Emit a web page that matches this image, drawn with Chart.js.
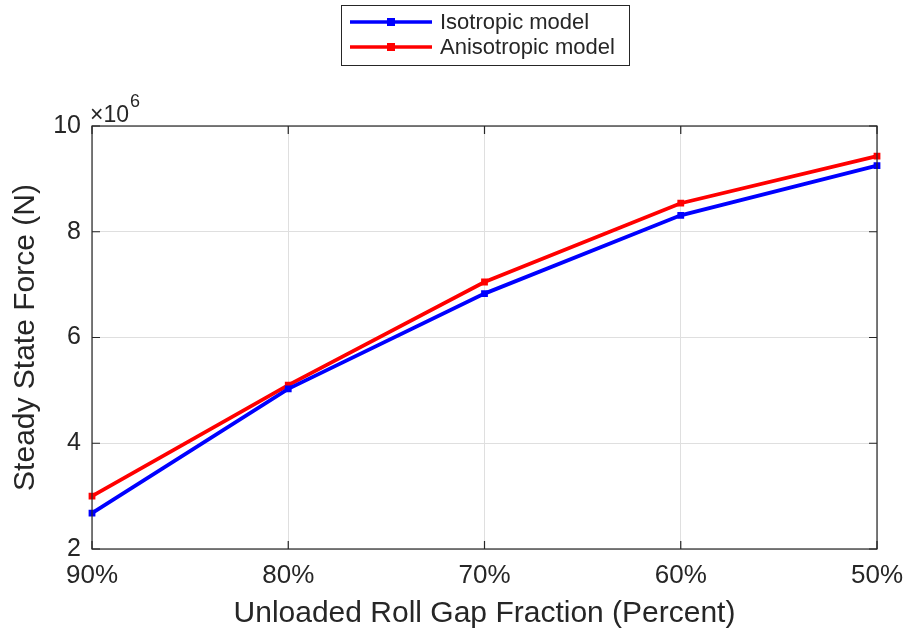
<!DOCTYPE html>
<html>
<head>
<meta charset="utf-8">
<script src="https://cdn.jsdelivr.net/npm/chart.js@4.4.1/dist/chart.umd.min.js"></script>
<style>
  html, body { margin: 0; padding: 0; background: #fff; }
  #wrap { width: 908px; height: 633px; }
</style>
</head>
<body>
<div id="wrap"><canvas id="chart-force"></canvas></div>
<script>
// Roll gap fractions on the x axis
const gapLabels = ['90%', '80%', '70%', '60%', '50%'];

// Steady state force (N) for each model
const isotropicForce = [2.68e6, 5.03e6, 6.83e6, 8.31e6, 9.25e6];
const anisotropicForce = [3.00e6, 5.10e6, 7.05e6, 8.54e6, 9.43e6];

const yTicks = [2e6, 4e6, 6e6, 8e6, 10e6];
const yScaleExp = 6;

const FONT = 'Helvetica, Arial, "Liberation Sans", sans-serif';
const AXIS_COLOR = '#262626';

// Plot box position inside the canvas
const box = { left: 92, right: 877, top: 126, bottom: 549 };

// Tick marks inside the box, x10^6 exponent label and the boxed legend
const matlabDecor = {
    id: 'matlabDecor',
    afterDraw(chart) {
        const ctx = chart.ctx;
        const a = chart.chartArea;
        const xs = chart.scales.x, ys = chart.scales.y;
        ctx.save();

        // box outline
        ctx.strokeStyle = AXIS_COLOR;
        ctx.lineWidth = 1.2;
        ctx.strokeRect(a.left, a.top, a.right - a.left, a.bottom - a.top);

        // inward ticks
        const tl = 8;
        ctx.beginPath();
        gapLabels.forEach((_, i) => {
            const x = xs.getPixelForValue(i);
            ctx.moveTo(x, a.bottom); ctx.lineTo(x, a.bottom - tl);
            ctx.moveTo(x, a.top); ctx.lineTo(x, a.top + tl);
        });
        yTicks.forEach(v => {
            const y = ys.getPixelForValue(v);
            ctx.moveTo(a.left, y); ctx.lineTo(a.left + tl, y);
            ctx.moveTo(a.right, y); ctx.lineTo(a.right - tl, y);
        });
        ctx.stroke();

        // exponent label
        ctx.fillStyle = AXIS_COLOR;
        ctx.textBaseline = 'alphabetic';
        ctx.textAlign = 'left';
        ctx.font = '23px ' + FONT;
        const ex = a.left - 2, ey = a.top - 4;
        ctx.fillText('\u00d710', ex, ey);
        const w = ctx.measureText('\u00d710').width;
        ctx.font = '18px ' + FONT;
        ctx.fillText(String(yScaleExp), ex + w + 1, ey - 15);

        // legend
        const lg = { left: 341, top: 5, width: 288, height: 60 };
        ctx.fillStyle = '#fff';
        ctx.fillRect(lg.left, lg.top, lg.width, lg.height);
        ctx.strokeStyle = AXIS_COLOR;
        ctx.lineWidth = 1;
        ctx.strokeRect(lg.left + 0.5, lg.top + 0.5, lg.width, lg.height);
        chart.data.datasets.forEach((ds, i) => {
            const y = lg.top + 17 + i * 25;
            ctx.strokeStyle = ds.borderColor;
            ctx.lineWidth = 3.5;
            ctx.beginPath();
            ctx.moveTo(350, y); ctx.lineTo(432, y);
            ctx.stroke();
            ctx.fillStyle = ds.borderColor;
            ctx.fillRect(391 - 4, y - 4, 8, 8);
            ctx.fillStyle = AXIS_COLOR;
            ctx.font = '22px ' + FONT;
            ctx.textBaseline = 'middle';
            ctx.fillText(ds.label, 440, y + 1);
        });
        ctx.restore();
    }
};

const ctxForce = document.getElementById('chart-force');
new Chart(ctxForce, {
    type: 'line',
    data: {
        labels: gapLabels,
        datasets: [{
            label: 'Isotropic model',
            data: isotropicForce,
            borderColor: '#0000ff',
            backgroundColor: '#0000ff',
            borderWidth: 3.8,
            pointStyle: 'rect',
            pointRadius: 4.8,
            pointBorderWidth: 0,
            tension: 0
        }, {
            label: 'Anisotropic model',
            data: anisotropicForce,
            borderColor: '#ff0000',
            backgroundColor: '#ff0000',
            borderWidth: 3.8,
            pointStyle: 'rect',
            pointRadius: 4.8,
            pointBorderWidth: 0,
            tension: 0
        }]
    },
    options: {
        responsive: true,
        maintainAspectRatio: false,
        animation: false,
        layout: { padding: { top: box.top, right: 908 - box.right, left: 0, bottom: 0 } },
        plugins: {
            legend: { display: false },
            tooltip: { enabled: false }
        },
        scales: {
            x: {
                type: 'category',
                offset: false,
                grid: { color: '#dfdfdf', lineWidth: 1, drawTicks: false },
                border: { display: false },
                ticks: { color: AXIS_COLOR, font: { family: FONT, size: 26 }, padding: 11, maxRotation: 0 },
                title: {
                    display: true,
                    text: 'Unloaded Roll Gap Fraction (Percent)',
                    color: AXIS_COLOR,
                    font: { family: FONT, size: 30 },
                    padding: { top: 0, bottom: 1 }
                },
                afterFit(scale) {
                    scale.height = 633 - box.bottom;
                    scale.paddingLeft = 0;
                    scale.paddingRight = 0;
                }
            },
            y: {
                min: 2e6,
                max: 10e6,
                afterBuildTicks(scale) { scale.ticks = yTicks.map(v => ({ value: v })); },
                grid: { color: '#dfdfdf', lineWidth: 1, drawTicks: false },
                border: { display: false },
                ticks: {
                    color: AXIS_COLOR,
                    font: { family: FONT, size: 25 },
                    padding: 11,
                    callback: v => String(v / Math.pow(10, yScaleExp))
                },
                title: {
                    display: true,
                    text: 'Steady State Force (N)',
                    color: AXIS_COLOR,
                    font: { family: FONT, size: 30 },
                    padding: { top: 8, bottom: 0 }
                },
                afterFit(scale) { scale.width = box.left; }
            }
        }
    },
    plugins: [matlabDecor]
});
</script>
</body>
</html>
